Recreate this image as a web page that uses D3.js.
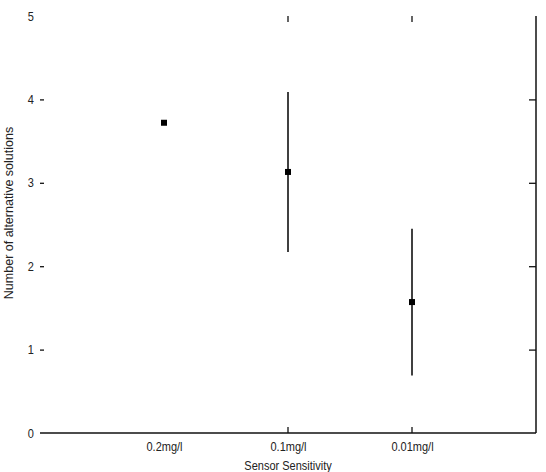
<!DOCTYPE html>
<html>
<head>
<meta charset="utf-8">
<script src="https://cdn.jsdelivr.net/npm/d3@7"></script>
<style>
    body { margin: 0; background: #fff; }
    text { font-family: "Liberation Sans", Arial, sans-serif; fill: #222; }
</style>
</head>
<body>
<script>
// chart data
var categories = ["0.2mg/l", "0.1mg/l", "0.01mg/l"];
var means = [3.72, 3.13, 1.57];
var errors = [0, 0.96, 0.88];
var yTicks = [0, 1, 2, 3, 4, 5];

var width = 546, height = 472,
    margin = {top: 16, right: 10, bottom: 39, left: 40};

var svg = d3.select("body").append("svg")
    .attr("width", width)
    .attr("height", height);

var x = d3.scaleLinear().domain([0, 4]).range([margin.left, width - margin.right]);
var y = d3.scaleLinear().domain([0, 5]).range([height - margin.bottom, margin.top]);

// left axis: labels 0..5, short inward ticks at 1..4, no domain line
var gy = svg.append("g")
    .attr("transform", "translate(" + margin.left + ",0)")
    .call(d3.axisLeft(y).tickValues(yTicks).tickSize(-4).tickPadding(7).tickFormat(d3.format("d")));
gy.select(".domain").remove();
gy.selectAll(".tick line")
    .attr("stroke", "#111").attr("stroke-width", 1.3)
    .style("display", function(d) { return (d === 0 || d === 5) ? "none" : null; });
gy.selectAll("text")
    .style("font-size", "12.5px")
    .attr("transform", "scale(0.88,1)");

// right axis
var gr = svg.append("g")
    .attr("transform", "translate(" + x(4) + ",0)")
    .call(d3.axisLeft(y).tickValues([1, 2, 3, 4]).tickSize(7).tickFormat(""));
gr.select(".domain").attr("d", "M0," + y(0) + "V" + y(5)).attr("stroke", "#111").attr("stroke-width", 1.5);
gr.selectAll("line").attr("stroke", "#111").attr("stroke-width", 1.3);

// bottom axis
var gx = svg.append("g")
    .attr("transform", "translate(0," + y(0) + ")")
    .call(d3.axisBottom(x).tickValues([1, 2, 3]).tickSize(0).tickPadding(9)
        .tickFormat(function(d) { return categories[d - 1]; }));
gx.select(".domain").attr("d", "M" + x(0) + ",0H" + x(4)).attr("stroke", "#111").attr("stroke-width", 1.5);
gx.selectAll("text")
    .style("font-size", "12.5px")
    .attr("transform", "scale(0.88,1)");

// small inward ticks on bottom and top for the 2nd and 3rd category
[2, 3].forEach(function(v) {
    svg.append("line")
        .attr("x1", x(v)).attr("x2", x(v))
        .attr("y1", y(0)).attr("y2", y(0) - 6)
        .attr("stroke", "#111").attr("stroke-width", 1.3);
    svg.append("line")
        .attr("x1", x(v)).attr("x2", x(v))
        .attr("y1", y(5)).attr("y2", y(5) + 6)
        .attr("stroke", "#111").attr("stroke-width", 1.3);
});

// axis titles
svg.append("text")
    .attr("transform", "translate(" + x(2) + ",470) scale(0.88,1)")
    .attr("text-anchor", "middle")
    .style("font-size", "12.5px")
    .text("Sensor Sensitivity");

svg.append("text")
    .attr("transform", "translate(12.5,213) rotate(-90)")
    .attr("text-anchor", "middle")
    .style("font-size", "12.5px")
    .text("Number of alternative solutions");

// error bars
svg.selectAll(".err")
    .data(means)
    .enter().append("line")
    .attr("class", "err")
    .attr("x1", function(d, i) { return x(i + 1); })
    .attr("x2", function(d, i) { return x(i + 1); })
    .attr("y1", function(d, i) { return y(d + errors[i]); })
    .attr("y2", function(d, i) { return y(d - errors[i]); })
    .attr("stroke", "#000")
    .attr("stroke-width", 1.5);

// mean markers
svg.selectAll(".pt")
    .data(means)
    .enter().append("rect")
    .attr("class", "pt")
    .attr("x", function(d, i) { return x(i + 1) - 3; })
    .attr("y", function(d) { return y(d) - 3; })
    .attr("width", 6)
    .attr("height", 6)
    .attr("fill", "#000");
</script>
</body>
</html>
